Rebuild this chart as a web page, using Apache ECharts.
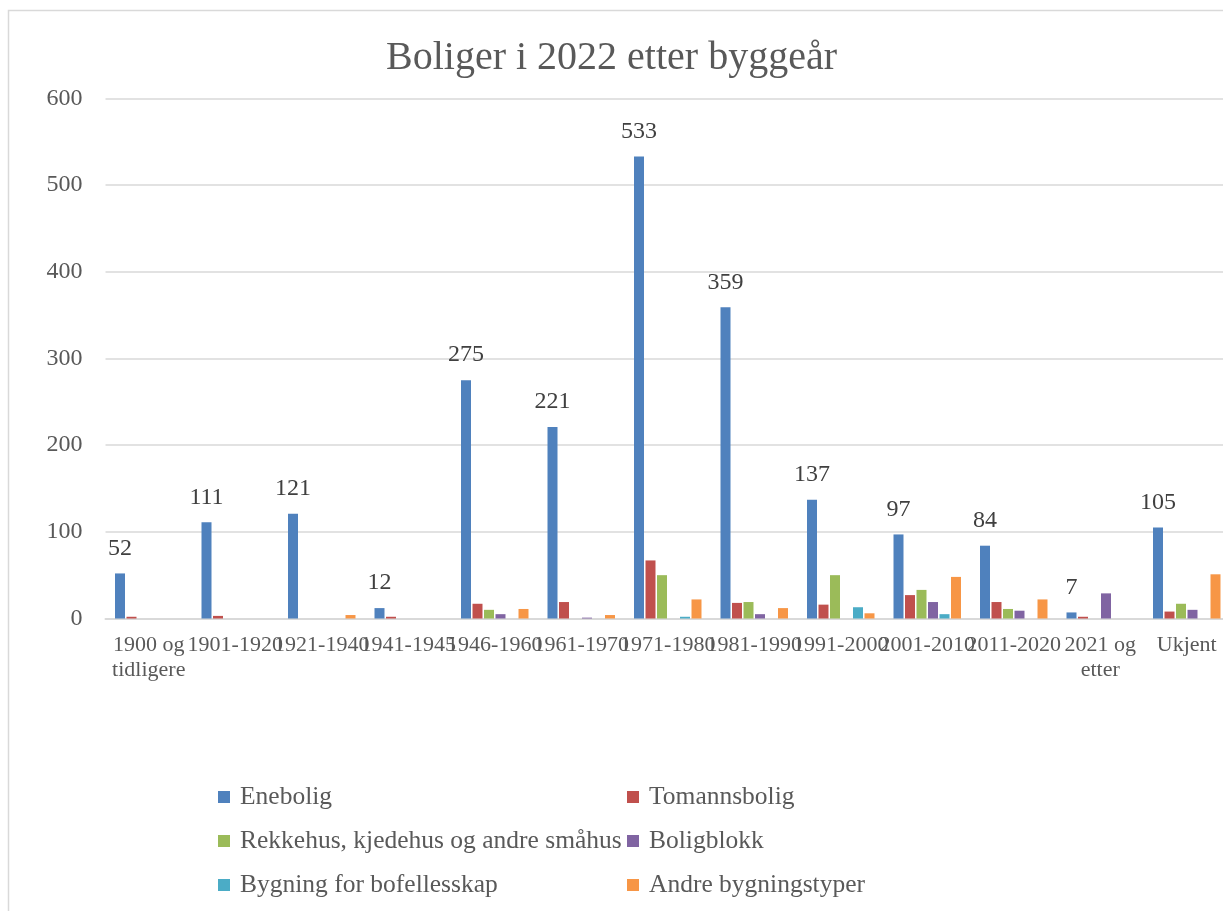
<!DOCTYPE html>
<html>
<head>
<meta charset="utf-8">
<script src="https://cdn.jsdelivr.net/npm/echarts@6/dist/echarts.min.js"></script>
<style>
html,body{margin:0;padding:0;background:#fff;}
#chart{width:1223px;height:911px;}
</style>
</head>
<body>
<div id="chart"></div>
<script>
const categories = ["1900 og\ntidligere","1901-1920","1921-1940","1941-1945","1946-1960","1961-1970","1971-1980","1981-1990","1991-2000","2001-2010","2011-2020","2021 og\netter","Ukjent"];
const seriesNames = ["Enebolig","Tomannsbolig","Rekkehus, kjedehus og andre småhus","Boligblokk","Bygning for bofellesskap","Andre bygningstyper"];
const enebolig     = [52,111,121,12,275,221,533,359,137,97,84,7,105];
const tomannsbolig = [2,3,0,2,17,19,67,18,16,27,19,2,8];
const rekkehus     = [0,0,0,0,10,0,50,19,50,33,11,0,17];
const boligblokk   = [0,0,0,0,5,1,0,5,0,19,9,29,10];
const bofellesskap = [0,0,0,0,0,0,2,0,13,5,0,0,0];
const andre        = [0,0,4,0,11,4,22,12,6,48,22,0,51];
const yTicks = [0,100,200,300,400,500,600];

const colors = ["#4F81BD","#C0504D","#9BBB59","#8064A2","#4BACC6","#F79646"];
const dataSets = [enebolig,tomannsbolig,rekkehus,boligblokk,bofellesskap,andre];
const FONT = "Liberation Serif";

const chart = echarts.init(document.getElementById('chart'), null, {renderer:'canvas'});
const series = dataSets.map((d,i)=>({
  name: seriesNames[i],
  type: 'bar',
  data: d,
  barWidth: 10,
  barGap: '15%',
  itemStyle: {color: colors[i]},
  label: i===0 ? {show:true, position:'top', distance:13, color:'#404040', fontSize:24, fontFamily:FONT} : {show:false},
  animation:false
}));

const legendText = {fontFamily:FONT, fontSize:25.5, color:'#595959', lineHeight:24, padding:[0,0,0,5]};

chart.setOption({
  animation:false,
  backgroundColor:'#fff',
  color: colors,
  title:{
    text:'Boliger i 2022 etter byggeår',
    left:'center', top:33,
    textStyle:{fontFamily:FONT, fontSize:40, fontWeight:'normal', color:'#595959'}
  },
  graphic:[{
    type:'rect', silent:true, z:-1,
    shape:{x:8.5, y:10.5, width:1400, height:1000},
    style:{fill:'none', stroke:'#d9d9d9', lineWidth:1.5}
  }],
  legend:[{
    orient:'vertical', left:218, top:784, padding:0,
    itemWidth:12, itemHeight:12, itemGap:18,
    icon:'rect',
    data:[seriesNames[0],seriesNames[2],seriesNames[4]],
    textStyle:legendText
  },{
    orient:'vertical', left:627, top:784, padding:0,
    itemWidth:12, itemHeight:12, itemGap:18,
    icon:'rect',
    data:[seriesNames[1],seriesNames[3],seriesNames[5]],
    textStyle:legendText
  }],
  grid:{left:105.5, width:1124.5, top:98.5, height:520, containLabel:false, outerBoundsMode:'none'},
  xAxis:{
    type:'category',
    data:categories,
    axisTick:{show:false},
    axisLine:{lineStyle:{color:'#d9d9d9', width:2}},
    axisLabel:{interval:0, fontFamily:FONT, fontSize:22, color:'#595959', margin:14, lineHeight:25}
  },
  yAxis:{
    type:'value',
    min:yTicks[0], max:yTicks[yTicks.length-1], interval:100,
    axisLine:{show:false}, axisTick:{show:false},
    splitLine:{lineStyle:{color:'#d9d9d9', width:1.5}},
    axisLabel:{fontFamily:FONT, fontSize:24, color:'#595959', margin:23}
  },
  series: series
});
</script>
</body>
</html>
